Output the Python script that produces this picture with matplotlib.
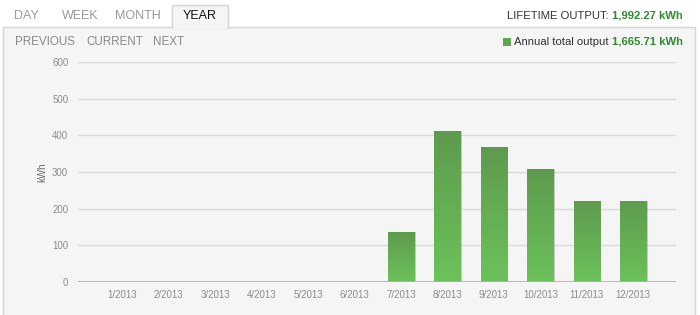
import matplotlib
matplotlib.use("Agg")
import matplotlib.pyplot as plt
import numpy as np
from matplotlib.patches import Rectangle
from matplotlib.colors import LinearSegmentedColormap

plt.rcParams["font.family"] = ["Liberation Sans", "DejaVu Sans"]

# monthly output, kWh
months = ["1/2013", "2/2013", "3/2013", "4/2013", "5/2013", "6/2013",
          "7/2013", "8/2013", "9/2013", "10/2013", "11/2013", "12/2013"]
output_kwh = [0, 0, 0, 0, 0, 0, 137.5, 410.5, 367.5, 307.5, 220.5, 222.2]
y_ticks = [0, 100, 200, 300, 400, 500, 600]

tabs = ["DAY", "WEEK", "MONTH", "YEAR"]
tab_x = [26, 80, 138, 200]
nav = ["PREVIOUS", "CURRENT", "NEXT"]
nav_x = [15, 86, 153]
lifetime_total = "1,992.27 kWh"
annual_total = "1,665.71 kWh"

W, H = 700, 315
PANEL = "#f5f5f5"
GREEN_TXT = "#2e8b2e"
GREY_TXT = "#999999"

fig = plt.figure(figsize=(W / 100, H / 100), dpi=100, facecolor="white")

# page chrome drawn in pixel coordinates
bg = fig.add_axes([0, 0, 1, 1], zorder=0)
bg.set_xlim(0, W); bg.set_ylim(H, 0); bg.axis("off")
bg.add_patch(Rectangle((3, 27), 692, 300, facecolor=PANEL, edgecolor="#d6d6d6", lw=1))
bg.add_patch(Rectangle((172, 5), 56, 22.5, facecolor=PANEL, edgecolor="#d6d6d6", lw=1))
bg.add_patch(Rectangle((172.6, 26), 54.8, 2.5, facecolor=PANEL, edgecolor="none"))
for name, x in zip(tabs, tab_x):
    bg.text(x, 16, name, ha="center", va="center", fontsize=9,
            color="#111111" if name == "YEAR" else GREY_TXT)
for name, x in zip(nav, nav_x):
    bg.text(x, 42, name, ha="left", va="center", fontsize=8.4, color="#8a8a8a")

fig.canvas.draw()
rend = fig.canvas.get_renderer()


def two_part(y, prefix, value, right=683):
    t = bg.text(right, y, value, ha="right", va="center", fontsize=8.1,
                fontweight="bold", color=GREEN_TXT)
    bb = t.get_window_extent(rend)
    x0 = bg.transData.inverted().transform((bb.x0, 0))[0]
    t2 = bg.text(x0, y, prefix, ha="right", va="center", fontsize=8.1, color="#333333")
    return t2.get_window_extent(rend)


two_part(16, "LIFETIME OUTPUT: ", lifetime_total)
bb = two_part(42, "Annual total output ", annual_total)
lx = bg.transData.inverted().transform((bb.x0, 0))[0]
bg.add_patch(Rectangle((lx - 11, 38), 7.5, 7.5, facecolor="#5fa650", edgecolor="none"))

# chart
ax = fig.add_axes([78 / W, (H - 282) / H, (676 - 78) / W, (282 - 62) / H], zorder=1)
ax.set_facecolor("none")
x = np.arange(len(months))
bw = 0.56

# soft drop shadow to the right of each bar
ax.bar(x + 0.035, output_kwh, width=bw, color="#000000", alpha=0.18, zorder=2)
bars = ax.bar(x, output_kwh, width=bw, color="#64ad54", zorder=3)

cmap = LinearSegmentedColormap.from_list("g", ["#6cc25a", "#5e9a4e"])
grad = np.linspace(0, 1, 256).reshape(-1, 1)
for b in bars:
    if b.get_height() <= 0:
        continue
    im = ax.imshow(grad, cmap=cmap, origin="lower", aspect="auto", zorder=4,
                   extent=(b.get_x(), b.get_x() + b.get_width(), 0, b.get_height()))
    im.set_clip_path(b)

ax.set_xlim(-0.95, 11.92)
ax.set_ylim(0, 600)
ax.set_yticks(y_ticks)
ax.set_yticklabels([str(v) for v in y_ticks], fontsize=7, color="#8c8c8c")
ax.set_xticks(x)
ax.set_xticklabels(months, fontsize=7, color="#8c8c8c")
ax.tick_params(length=0, pad=7)
ax.tick_params(axis="x", pad=6)
ax.grid(axis="y", color="#d9d9d9", lw=1, zorder=1)
for s in ax.spines.values():
    s.set_visible(False)
ax.axhline(0, color="#b0b0b0", lw=1.2, zorder=5)
ax.set_ylabel("kWh", fontsize=7, color="#666666", labelpad=3)

fig.savefig("out.png", dpi=100, facecolor="white")
